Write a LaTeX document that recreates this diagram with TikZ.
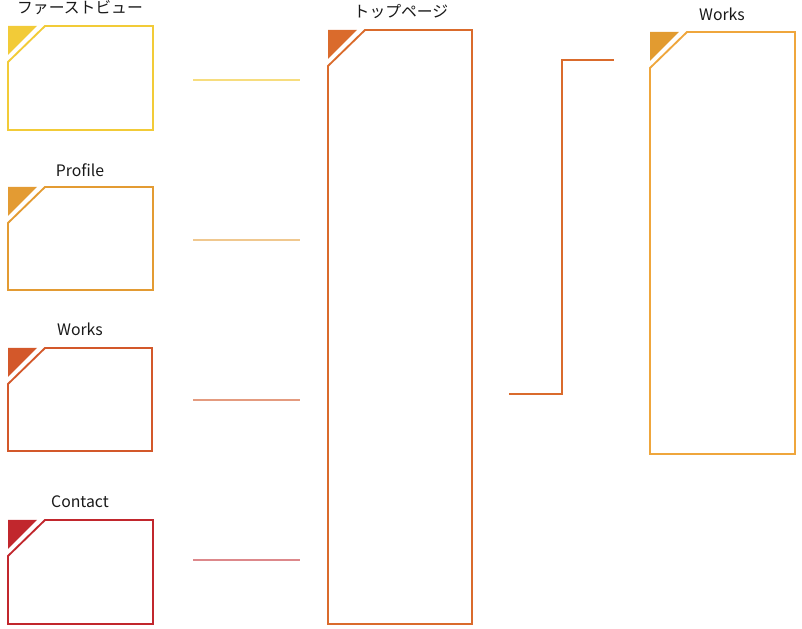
\documentclass[tikz,border=0pt]{standalone}
\usepackage{fontspec}
\newfontfamily\jpfont{Noto Sans CJK JP}
\usetikzlibrary{calc}

\definecolor{cyel}{HTML}{F2CB38}
\definecolor{corg}{HTML}{E39B33}
\definecolor{cred}{HTML}{D3582A}
\definecolor{cdark}{HTML}{C1272D}
\definecolor{ctop}{HTML}{DA6B2C}
\definecolor{cwork}{HTML}{EFA63C}
\definecolor{cworkfill}{HTML}{E29B30}

\begin{document}
\begin{tikzpicture}[x=0.03cm,y=-0.03cm,
  frame/.style={line width=1.6pt,line join=miter},
  lbl/.style={font=\jpfont\fontsize{13.5}{16}\selectfont,text=black!90},
  link/.style={line width=0.9pt}]

\useasboundingbox (0,0) rectangle (802,629);

% ファーストビュー
\fill[cyel](8,26)--(37,26)--(8,55)--cycle;
\draw[frame,cyel](45,26)--(153,26)--(153,130)--(8,130)--(8,62)--cycle;
\node[lbl](first) at (80,8){ファーストビュー};

% Profile
\fill[corg](8,187)--(37,187)--(8,216)--cycle;
\draw[frame,corg](45,187)--(153,187)--(153,290)--(8,290)--(8,223)--cycle;
\node[lbl](profile) at (80,170){Profile};

% Works
\fill[cred](8,348)--(37,348)--(8,377)--cycle;
\draw[frame,cred](45,348)--(152,348)--(152,451)--(8,451)--(8,384)--cycle;
\node[lbl](works) at (80,329){Works};

% Contact
\fill[cdark](8,520)--(37,520)--(8,549)--cycle;
\draw[frame,cdark](45,520)--(153,520)--(153,624)--(8,624)--(8,556)--cycle;
\node[lbl](contact) at (80,502){Contact};

% トップページ
\fill[ctop](328,30)--(357,30)--(328,59)--cycle;
\draw[frame,ctop](365,30)--(472,30)--(472,624)--(328,624)--(328,66)--cycle;
\node[lbl](top) at (401,12){トップページ};

% Works (page)
\fill[cworkfill](650,32)--(679,32)--(650,61)--cycle;
\draw[frame,cwork](687,32)--(795,32)--(795,454)--(650,454)--(650,68)--cycle;
\node[lbl](workspage) at (722,14){Works};

% links
\coordinate(first-a) at (193,80); \coordinate(first-b) at (300,80);
\coordinate(profile-a) at (193,240); \coordinate(profile-b) at (300,240);
\coordinate(works-a) at (193,400); \coordinate(works-b) at (300,400);
\coordinate(contact-a) at (193,560); \coordinate(contact-b) at (300,560);
\draw[link,cyel!65](first-a)--(first-b);
\draw[link,corg!55](profile-a)--(profile-b);
\draw[link,cred!60](works-a)--(works-b);
\draw[link,cdark!55](contact-a)--(contact-b);

\coordinate(top-out) at (509,394); \coordinate(works-in) at (614,60);
\draw[link,ctop](top-out)--++(53,0)|-(works-in);

\end{tikzpicture}
\end{document}
